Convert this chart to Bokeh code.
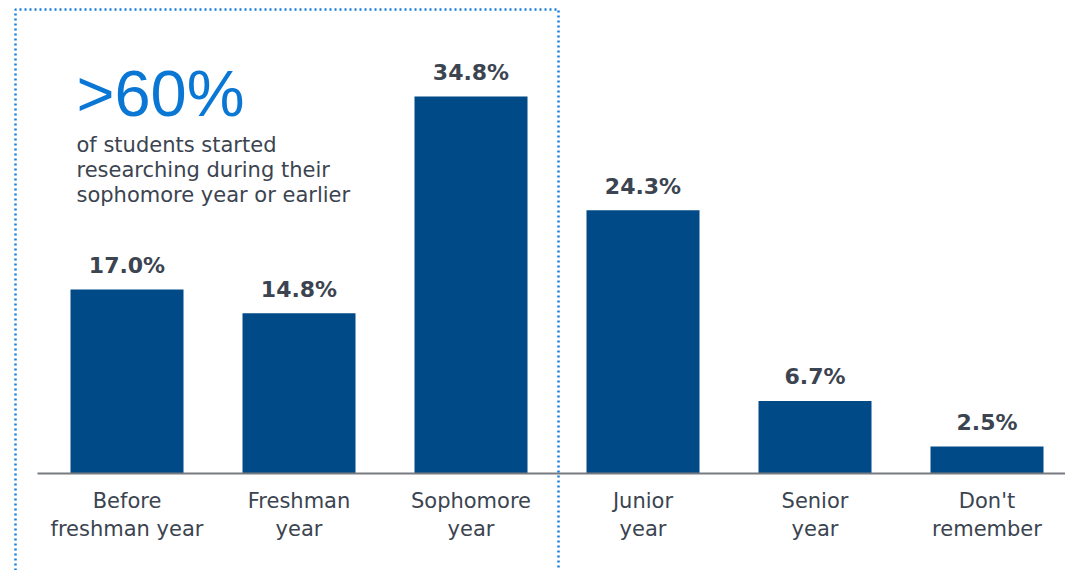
from bokeh.plotting import figure
from bokeh.models import Range1d, FixedTicker, PolyAnnotation, Label
from bokeh.embed import file_html
from bokeh.resources import INLINE
from bokeh.core.properties import value

# ---- data ----
categories = ["Before\nfreshman year", "Freshman\nyear", "Sophomore\nyear",
              "Junior\nyear", "Senior\nyear", "Don't\nremember"]
percentages = [17.0, 14.8, 34.8, 24.3, 6.7, 2.5]
value_labels = ["17.0%", "14.8%", "34.8%", "24.3%", "6.7%", "2.5%"]
headline = ">60%"
subtext_lines = ["of students started", "researching during their", "sophomore year or earlier"]

# ---- geometry (page pixels) ----
W, H = 1065, 570
BASE = 473
C0, STEP, UNIT = 126.5, 172.0, 10.83


def X(px):
    return (px - C0) / STEP


def Y(py):
    return (BASE - py) / UNIT


idx = list(range(len(categories)))

p = figure(width=W, height=H, output_backend="svg", toolbar_location=None,
           x_range=Range1d(X(0), X(W)),
           y_range=Range1d(Y(H), Y(0)),
           y_axis_location=None,
           min_border_left=0, min_border_right=0,
           min_border_top=0, min_border_bottom=0)
p.outline_line_color = None
p.grid.visible = False
p.background_fill_color = "white"
p.border_fill_color = "white"

bar_color = "#004b87"
text_color = "#3b4450"

p.vbar(x=idx, top=percentages, width=113 / 172, fill_color=bar_color, line_color=None)

p.text(x=idx, y=percentages, text=value_labels, y_offset=-24,
       text_align="center", text_baseline="alphabetic",
       text_font=value("DejaVu Sans"), text_font_style="bold",
       text_font_size="22px", text_color=text_color)

ax = p.xaxis[0]
ax.fixed_location = 0
ax.bounds = (X(37), X(W))
ax.ticker = FixedTicker(ticks=idx)
ax.major_label_overrides = {i: c for i, c in enumerate(categories)}
ax.axis_line_color = "#777b80"
ax.axis_line_width = 2
ax.major_tick_line_color = None
ax.minor_tick_line_color = None
ax.major_tick_out = 0
ax.major_tick_in = 0
ax.major_label_standoff = 15
ax.major_label_text_font = "DejaVu Sans"
ax.major_label_text_font_size = "21px"
ax.major_label_text_color = text_color

# dotted highlight box
box = PolyAnnotation(xs=[X(15), X(15), X(558), X(558)],
                     ys=[Y(640), Y(9), Y(9), Y(640)],
                     fill_alpha=0, fill_color=None,
                     line_color="#1a7fdc", line_alpha=1.0,
                     line_width=2.5, line_dash="2 3")
p.add_layout(box)

p.add_layout(Label(x=X(76), y=Y(93), text=headline, text_font="Liberation Sans",
                   text_font_size="65px", text_color="#0a77d4",
                   text_baseline="alphabetic", text_align="left"))
for i, line in enumerate(subtext_lines):
    p.add_layout(Label(x=X(76), y=Y(144 + 25 * i), text=line, text_font="DejaVu Sans",
                       text_font_size="21px", text_color=text_color,
                       text_baseline="alphabetic", text_align="left"))

open("out.html", "w").write(file_html(p, INLINE))
